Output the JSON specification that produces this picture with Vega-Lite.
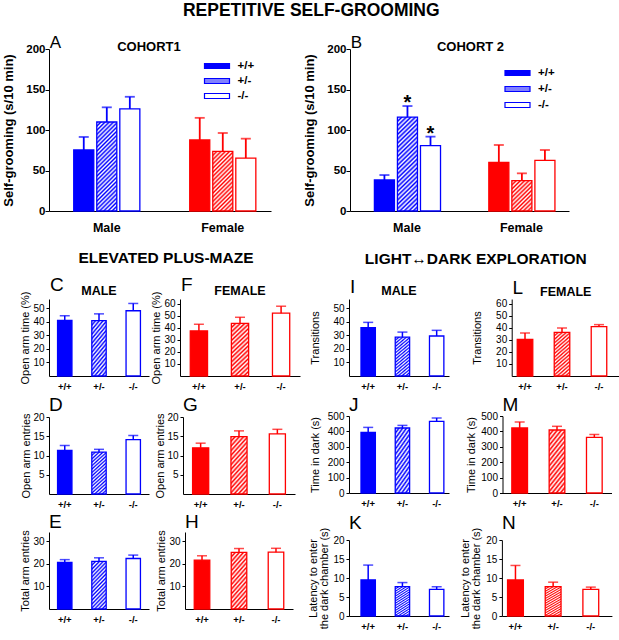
{
"padding": {"left": 2, "top": 1, "right": 2, "bottom": 2},
"title": {"text": "REPETITIVE SELF-GROOMING", "fontSize": 17.5, "fontWeight": "bold", "anchor": "middle", "offset": 15},
"config": {
  "font": "Liberation Sans",
  "view": {"stroke": null},
  "axis": {"grid": false, "domainColor": "#000000", "tickColor": "#000000", "labelColor": "#000000", "titleColor": "#000000", "domainWidth": 1, "tickWidth": 1, "labelFont": "Liberation Sans", "titleFont": "Liberation Sans"},
  "axisX": {"ticks": false, "labelFontSize": 9.5, "labelFontWeight": "bold", "labelPadding": 5, "labelAngle": 0},
  "axisY": {"titleFontSize": 11, "titleFontWeight": "normal", "labelFontSize": 10, "labelPadding": 2, "tickSize": 3},
  "title": {"font": "Liberation Sans", "color": "#000000"},
  "legend": {"labelFont": "Liberation Sans", "labelColor": "#000000"},
  "range": {"category": ["#0000ff", "#8080ff", "#ffffff", "#ff0000", "#ff8080", "#ffffff"]}
},
"resolve": {"legend": {"fill": "independent"}},
"align": "none",
"spacing": 16,
"vconcat": [
{
  "spacing": 32,
  "resolve": {"legend": {"fill": "independent"}},
  "hconcat": [
  {
   "resolve": {"legend": {"fill": "independent"}},
   "title": {"text": "A", "anchor": "start", "frame": "bounds", "fontSize": 17, "fontWeight": "normal", "offset": -24, "dx": 47, "baseline": "alphabetic"},
   "vconcat": [
  {
    "width": 222, "height": 162,
    "title": {"text": "COHORT1", "anchor": "middle", "frame": "group", "fontSize": 13, "fontWeight": "bold", "offset": -21, "dx": -11, "baseline": "alphabetic"},
    "data": {"values": [
      {"sex": "Male", "g": "+/+", "grp": "Male +/+", "mean": 75.3, "up": 91.4},
      {"sex": "Male", "g": "+/-", "grp": "Male +/-", "mean": 109.9, "up": 128},
      {"sex": "Male", "g": "-/-", "grp": "Male -/-", "mean": 126, "up": 141},
      {"sex": "Female", "g": "+/+", "grp": "Female +/+", "mean": 87.7, "up": 115},
      {"sex": "Female", "g": "+/-", "grp": "Female +/-", "mean": 73.7, "up": 96.3},
      {"sex": "Female", "g": "-/-", "grp": "Female -/-", "mean": 65.4, "up": 89.3}
    ]},
    "encoding": {"y": {"field": "mean", "type": "quantitative", "scale": {"domain": [0, 200], "nice": false}, "axis": {"title": "Self-grooming (s/10 min)", "titleFontSize": 13, "titleFontWeight": "bold", "titlePadding": 10, "labelFontSize": 11.5, "labelFontWeight": "bold", "labelPadding": 0, "tickSize": 4, "values": [0, 50, 100, 150, 200]}}},
    "layer": [
      {"mark": {"type": "bar", "strokeWidth": 1.3},
       "encoding": {
         "x": {"field": "sex", "type": "nominal", "scale": {"domain": ["Male", "Female"], "paddingInner": 0.43, "paddingOuter": 0.172, "align": 0.62}, "axis": {"title": null, "labelFontSize": 12.5, "labelPadding": 10}},
         "xOffset": {"field": "g", "type": "nominal", "scale": {"domain": ["+/+", "+/-", "-/-"], "paddingInner": 0.13, "paddingOuter": 0}},
         "fill": {"field": "grp", "type": "nominal", "scale": {"domain": ["Male +/+", "Male +/-", "Male -/-", "Female +/+", "Female +/-", "Female -/-"]},
           "condition": [
             {"test": "datum.grp === 'Male +/-'", "value": {"gradient": "linear", "x1": 0, "y1": 0, "x2": 0.26, "y2": 1.16, "stops": [{"offset":0,"color":"#00f"},{"offset":0.0192,"color":"#fff"},{"offset":0.0385,"color":"#00f"},{"offset":0.0577,"color":"#fff"},{"offset":0.0769,"color":"#00f"},{"offset":0.0962,"color":"#fff"},{"offset":0.1154,"color":"#00f"},{"offset":0.1346,"color":"#fff"},{"offset":0.1538,"color":"#00f"},{"offset":0.1731,"color":"#fff"},{"offset":0.1923,"color":"#00f"},{"offset":0.2115,"color":"#fff"},{"offset":0.2308,"color":"#00f"},{"offset":0.25,"color":"#fff"},{"offset":0.2692,"color":"#00f"},{"offset":0.2885,"color":"#fff"},{"offset":0.3077,"color":"#00f"},{"offset":0.3269,"color":"#fff"},{"offset":0.3462,"color":"#00f"},{"offset":0.3654,"color":"#fff"},{"offset":0.3846,"color":"#00f"},{"offset":0.4038,"color":"#fff"},{"offset":0.4231,"color":"#00f"},{"offset":0.4423,"color":"#fff"},{"offset":0.4615,"color":"#00f"},{"offset":0.4808,"color":"#fff"},{"offset":0.5,"color":"#00f"},{"offset":0.5192,"color":"#fff"},{"offset":0.5385,"color":"#00f"},{"offset":0.5577,"color":"#fff"},{"offset":0.5769,"color":"#00f"},{"offset":0.5962,"color":"#fff"},{"offset":0.6154,"color":"#00f"},{"offset":0.6346,"color":"#fff"},{"offset":0.6538,"color":"#00f"},{"offset":0.6731,"color":"#fff"},{"offset":0.6923,"color":"#00f"},{"offset":0.7115,"color":"#fff"},{"offset":0.7308,"color":"#00f"},{"offset":0.75,"color":"#fff"},{"offset":0.7692,"color":"#00f"},{"offset":0.7885,"color":"#fff"},{"offset":0.8077,"color":"#00f"},{"offset":0.8269,"color":"#fff"},{"offset":0.8462,"color":"#00f"},{"offset":0.8654,"color":"#fff"},{"offset":0.8846,"color":"#00f"},{"offset":0.9038,"color":"#fff"},{"offset":0.9231,"color":"#00f"},{"offset":0.9423,"color":"#fff"},{"offset":0.9615,"color":"#00f"},{"offset":0.9808,"color":"#fff"},{"offset":1,"color":"#00f"}]}},
             {"test": "datum.grp === 'Female +/-'", "value": {"gradient": "linear", "x1": 0, "y1": 0, "x2": 0.4, "y2": 1.2, "stops": [{"offset":0,"color":"#f00"},{"offset":0.0263,"color":"#fff"},{"offset":0.0526,"color":"#f00"},{"offset":0.0789,"color":"#fff"},{"offset":0.1053,"color":"#f00"},{"offset":0.1316,"color":"#fff"},{"offset":0.1579,"color":"#f00"},{"offset":0.1842,"color":"#fff"},{"offset":0.2105,"color":"#f00"},{"offset":0.2368,"color":"#fff"},{"offset":0.2632,"color":"#f00"},{"offset":0.2895,"color":"#fff"},{"offset":0.3158,"color":"#f00"},{"offset":0.3421,"color":"#fff"},{"offset":0.3684,"color":"#f00"},{"offset":0.3947,"color":"#fff"},{"offset":0.4211,"color":"#f00"},{"offset":0.4474,"color":"#fff"},{"offset":0.4737,"color":"#f00"},{"offset":0.5,"color":"#fff"},{"offset":0.5263,"color":"#f00"},{"offset":0.5526,"color":"#fff"},{"offset":0.5789,"color":"#f00"},{"offset":0.6053,"color":"#fff"},{"offset":0.6316,"color":"#f00"},{"offset":0.6579,"color":"#fff"},{"offset":0.6842,"color":"#f00"},{"offset":0.7105,"color":"#fff"},{"offset":0.7368,"color":"#f00"},{"offset":0.7632,"color":"#fff"},{"offset":0.7895,"color":"#f00"},{"offset":0.8158,"color":"#fff"},{"offset":0.8421,"color":"#f00"},{"offset":0.8684,"color":"#fff"},{"offset":0.8947,"color":"#f00"},{"offset":0.9211,"color":"#fff"},{"offset":0.9474,"color":"#f00"},{"offset":0.9737,"color":"#fff"},{"offset":1,"color":"#f00"}]}}
           ],
           "legend": {"orient": "none", "legendX": 162, "legendY": 11, "title": null, "padding": 0, "values": ["Male +/+", "Male +/-", "Male -/-"], "labelExpr": "split(datum.label, ' ')[1]", "symbolType": "M-2.5,-0.5H2.5V0.5H-2.5Z", "symbolSize": 100, "symbolStrokeColor": "#0000ff", "symbolStrokeWidth": 1.2, "labelFontSize": 11.5, "labelFontWeight": "bold", "labelOffset": 14.5, "rowPadding": 3}},
         "stroke": {"field": "sex", "type": "nominal", "scale": {"domain": ["Male", "Female"], "range": ["#0000ff", "#ff0000"]}, "legend": null}}},
      {"mark": {"type": "rule", "strokeWidth": 1.8},
       "encoding": {
         "x": {"field": "sex", "type": "nominal", "axis": {"title": null, "labelFontSize": 12.5, "labelPadding": 10}},
         "xOffset": {"field": "g", "type": "nominal"},
         "y2": {"field": "up"},
         "color": {"field": "sex", "type": "nominal", "scale": {"domain": ["Male", "Female"], "range": ["#0000ff", "#ff0000"]}, "legend": null}}},
      {"mark": {"type": "tick", "thickness": 1.8, "size": 10},
       "encoding": {
         "x": {"field": "sex", "type": "nominal", "axis": {"title": null, "labelFontSize": 12.5, "labelPadding": 10}},
         "xOffset": {"field": "g", "type": "nominal"},
         "y": {"field": "up", "type": "quantitative", "title": "Self-grooming (s/10 min)"},
         "color": {"field": "sex", "type": "nominal", "scale": {"domain": ["Male", "Female"], "range": ["#0000ff", "#ff0000"]}, "legend": null}}}
    ]
  }
   ]
  },
  {
   "resolve": {"legend": {"fill": "independent"}},
   "title": {"text": "B", "anchor": "start", "frame": "bounds", "fontSize": 17, "fontWeight": "normal", "offset": -24, "dx": 47, "baseline": "alphabetic"},
   "vconcat": [
  {
    "width": 219, "height": 162,
    "title": {"text": "COHORT 2", "anchor": "middle", "frame": "group", "fontSize": 13, "fontWeight": "bold", "offset": -21, "dx": 11, "baseline": "alphabetic"},
    "data": {"values": [
      {"sex": "Male", "g": "+/+", "grp": "Male +/+", "mean": 38.3, "up": 44.4},
      {"sex": "Male", "g": "+/-", "grp": "Male +/-", "mean": 116, "up": 129.6},
      {"sex": "Male", "g": "-/-", "grp": "Male -/-", "mean": 80.7, "up": 91.8},
      {"sex": "Female", "g": "+/+", "grp": "Female +/+", "mean": 60.1, "up": 81.5},
      {"sex": "Female", "g": "+/-", "grp": "Female +/-", "mean": 37.4, "up": 46.5},
      {"sex": "Female", "g": "-/-", "grp": "Female -/-", "mean": 62.5, "up": 75.3}
    ]},
    "encoding": {"y": {"field": "mean", "type": "quantitative", "scale": {"domain": [0, 200], "nice": false}, "axis": {"title": "Self-grooming (s/10 min)", "titleFontSize": 13, "titleFontWeight": "bold", "titlePadding": 10, "labelFontSize": 11.5, "labelFontWeight": "bold", "labelPadding": 0, "tickSize": 4, "values": [0, 50, 100, 150, 200]}}},
    "layer": [
      {"mark": {"type": "bar", "strokeWidth": 1.3},
       "encoding": {
         "x": {"field": "sex", "type": "nominal", "scale": {"domain": ["Male", "Female"], "paddingInner": 0.43, "paddingOuter": 0.172, "align": 0.62}, "axis": {"title": null, "labelFontSize": 12.5, "labelPadding": 10}},
         "xOffset": {"field": "g", "type": "nominal", "scale": {"domain": ["+/+", "+/-", "-/-"], "paddingInner": 0.13, "paddingOuter": 0}},
         "fill": {"field": "grp", "type": "nominal", "scale": {"domain": ["Male +/+", "Male +/-", "Male -/-", "Female +/+", "Female +/-", "Female -/-"]},
           "condition": [
             {"test": "datum.grp === 'Male +/-'", "value": {"gradient": "linear", "x1": 0, "y1": 0, "x2": 0.24, "y2": 1.16, "stops": [{"offset":0,"color":"#00f"},{"offset":0.0192,"color":"#fff"},{"offset":0.0385,"color":"#00f"},{"offset":0.0577,"color":"#fff"},{"offset":0.0769,"color":"#00f"},{"offset":0.0962,"color":"#fff"},{"offset":0.1154,"color":"#00f"},{"offset":0.1346,"color":"#fff"},{"offset":0.1538,"color":"#00f"},{"offset":0.1731,"color":"#fff"},{"offset":0.1923,"color":"#00f"},{"offset":0.2115,"color":"#fff"},{"offset":0.2308,"color":"#00f"},{"offset":0.25,"color":"#fff"},{"offset":0.2692,"color":"#00f"},{"offset":0.2885,"color":"#fff"},{"offset":0.3077,"color":"#00f"},{"offset":0.3269,"color":"#fff"},{"offset":0.3462,"color":"#00f"},{"offset":0.3654,"color":"#fff"},{"offset":0.3846,"color":"#00f"},{"offset":0.4038,"color":"#fff"},{"offset":0.4231,"color":"#00f"},{"offset":0.4423,"color":"#fff"},{"offset":0.4615,"color":"#00f"},{"offset":0.4808,"color":"#fff"},{"offset":0.5,"color":"#00f"},{"offset":0.5192,"color":"#fff"},{"offset":0.5385,"color":"#00f"},{"offset":0.5577,"color":"#fff"},{"offset":0.5769,"color":"#00f"},{"offset":0.5962,"color":"#fff"},{"offset":0.6154,"color":"#00f"},{"offset":0.6346,"color":"#fff"},{"offset":0.6538,"color":"#00f"},{"offset":0.6731,"color":"#fff"},{"offset":0.6923,"color":"#00f"},{"offset":0.7115,"color":"#fff"},{"offset":0.7308,"color":"#00f"},{"offset":0.75,"color":"#fff"},{"offset":0.7692,"color":"#00f"},{"offset":0.7885,"color":"#fff"},{"offset":0.8077,"color":"#00f"},{"offset":0.8269,"color":"#fff"},{"offset":0.8462,"color":"#00f"},{"offset":0.8654,"color":"#fff"},{"offset":0.8846,"color":"#00f"},{"offset":0.9038,"color":"#fff"},{"offset":0.9231,"color":"#00f"},{"offset":0.9423,"color":"#fff"},{"offset":0.9615,"color":"#00f"},{"offset":0.9808,"color":"#fff"},{"offset":1,"color":"#00f"}]}},
             {"test": "datum.grp === 'Female +/-'", "value": {"gradient": "linear", "x1": 0, "y1": 0, "x2": 0.75, "y2": 1.16, "stops": [{"offset":0,"color":"#f00"},{"offset":0.0417,"color":"#fff"},{"offset":0.0833,"color":"#f00"},{"offset":0.125,"color":"#fff"},{"offset":0.1667,"color":"#f00"},{"offset":0.2083,"color":"#fff"},{"offset":0.25,"color":"#f00"},{"offset":0.2917,"color":"#fff"},{"offset":0.3333,"color":"#f00"},{"offset":0.375,"color":"#fff"},{"offset":0.4167,"color":"#f00"},{"offset":0.4583,"color":"#fff"},{"offset":0.5,"color":"#f00"},{"offset":0.5417,"color":"#fff"},{"offset":0.5833,"color":"#f00"},{"offset":0.625,"color":"#fff"},{"offset":0.6667,"color":"#f00"},{"offset":0.7083,"color":"#fff"},{"offset":0.75,"color":"#f00"},{"offset":0.7917,"color":"#fff"},{"offset":0.8333,"color":"#f00"},{"offset":0.875,"color":"#fff"},{"offset":0.9167,"color":"#f00"},{"offset":0.9583,"color":"#fff"},{"offset":1,"color":"#f00"}]}}
           ],
           "legend": {"orient": "none", "legendX": 161.5, "legendY": 18, "title": null, "padding": 0, "values": ["Male +/+", "Male +/-", "Male -/-"], "labelExpr": "split(datum.label, ' ')[1]", "symbolType": "M-2.5,-0.5H2.5V0.5H-2.5Z", "symbolSize": 100, "symbolStrokeColor": "#0000ff", "symbolStrokeWidth": 1.2, "labelFontSize": 11.5, "labelFontWeight": "bold", "labelOffset": 14.5, "rowPadding": 4}},
         "stroke": {"field": "sex", "type": "nominal", "scale": {"domain": ["Male", "Female"], "range": ["#0000ff", "#ff0000"]}, "legend": null}}},
      {"mark": {"type": "rule", "strokeWidth": 1.8},
       "encoding": {
         "x": {"field": "sex", "type": "nominal", "axis": {"title": null, "labelFontSize": 12.5, "labelPadding": 10}},
         "xOffset": {"field": "g", "type": "nominal"},
         "y2": {"field": "up"},
         "color": {"field": "sex", "type": "nominal", "scale": {"domain": ["Male", "Female"], "range": ["#0000ff", "#ff0000"]}, "legend": null}}},
      {"mark": {"type": "tick", "thickness": 1.8, "size": 10},
       "encoding": {
         "x": {"field": "sex", "type": "nominal", "axis": {"title": null, "labelFontSize": 12.5, "labelPadding": 10}},
         "xOffset": {"field": "g", "type": "nominal"},
         "y": {"field": "up", "type": "quantitative", "title": "Self-grooming (s/10 min)"},
         "color": {"field": "sex", "type": "nominal", "scale": {"domain": ["Male", "Female"], "range": ["#0000ff", "#ff0000"]}, "legend": null}}},
      {"data": {"values": [{"sex": "Male", "g": "+/-", "up": 129.6, "t": "*"}, {"sex": "Male", "g": "-/-", "up": 91.8, "t": "*"}]},
       "mark": {"type": "text", "fontSize": 20, "fontWeight": "bold", "baseline": "alphabetic", "dy": 3, "font": "Liberation Sans", "color": "#000000"},
       "encoding": {
         "x": {"field": "sex", "type": "nominal", "axis": {"title": null, "labelFontSize": 12.5, "labelPadding": 10}},
         "xOffset": {"field": "g", "type": "nominal"},
         "y": {"field": "up", "type": "quantitative", "title": "Self-grooming (s/10 min)"},
         "text": {"field": "t", "type": "nominal"}}}
    ]
  }
   ]
  }
  ]
},
{
  "spacing": 7,
  "align": "none",
  "hconcat": [
  {
    "title": {"text": "ELEVATED PLUS-MAZE", "fontSize": 15.5, "fontWeight": "bold", "anchor": "middle", "offset": 10, "dx": 6},
    "spacing": 4,
    "align": "none",
    "vconcat": [
      {"spacing": 1, "hconcat": [
        {"title": {"text": "C", "anchor": "start", "frame": "bounds", "fontSize": 19, "fontWeight": "normal", "offset": -25, "dx": 30, "baseline": "alphabetic"},
         "vconcat": [
        {"width": 100, "height": 77,
         "title": {"text": "MALE", "anchor": "middle", "frame": "group", "fontSize": 12.5, "fontWeight": "bold", "offset": -16.5, "baseline": "alphabetic"},
         "data": {"values": [{"g": "+/+", "grp": "Male +/+", "mean": 41.1, "up": 44.6}, {"g": "+/-", "grp": "Male +/-", "mean": 41.0, "up": 46.0}, {"g": "-/-", "grp": "Male -/-", "mean": 48.3, "up": 53.7}]},
         "encoding": {"x": {"field": "g", "type": "nominal", "scale": {"domain": ["+/+", "+/-", "-/-"], "paddingInner": 0.58, "paddingOuter": 0.25, "align": 0.5}, "axis": {"title": null}},
                      "y": {"field": "mean", "type": "quantitative", "scale": {"domain": [0, 57], "nice": false}, "axis": {"title": "Open arm time (%)", "titlePadding": 2, "values": [10, 20, 30, 40, 50]}}},
         "layer": [
           {"mark": {"type": "bar", "stroke": "#0000ff", "strokeWidth": 1.3}, "encoding": {"fill": {"field": "grp", "type": "nominal", "scale": {"domain": ["Male +/+", "Male +/-", "Male -/-", "Female +/+", "Female +/-", "Female -/-"]}, "legend": null, "condition": {"test": "datum.g === '+/-'", "value": {"gradient": "linear", "x1": 0, "y1": 0, "x2": 0.37, "y2": 1.19, "stops": [{"offset":0,"color":"#00f"},{"offset":0.03125,"color":"#fff"},{"offset":0.0625,"color":"#00f"},{"offset":0.09375,"color":"#fff"},{"offset":0.125,"color":"#00f"},{"offset":0.15625,"color":"#fff"},{"offset":0.1875,"color":"#00f"},{"offset":0.21875,"color":"#fff"},{"offset":0.25,"color":"#00f"},{"offset":0.28125,"color":"#fff"},{"offset":0.3125,"color":"#00f"},{"offset":0.34375,"color":"#fff"},{"offset":0.375,"color":"#00f"},{"offset":0.40625,"color":"#fff"},{"offset":0.4375,"color":"#00f"},{"offset":0.46875,"color":"#fff"},{"offset":0.5,"color":"#00f"},{"offset":0.53125,"color":"#fff"},{"offset":0.5625,"color":"#00f"},{"offset":0.59375,"color":"#fff"},{"offset":0.625,"color":"#00f"},{"offset":0.65625,"color":"#fff"},{"offset":0.6875,"color":"#00f"},{"offset":0.71875,"color":"#fff"},{"offset":0.75,"color":"#00f"},{"offset":0.78125,"color":"#fff"},{"offset":0.8125,"color":"#00f"},{"offset":0.84375,"color":"#fff"},{"offset":0.875,"color":"#00f"},{"offset":0.90625,"color":"#fff"},{"offset":0.9375,"color":"#00f"},{"offset":0.96875,"color":"#fff"},{"offset":1,"color":"#00f"}]}}}}},
           {"mark": {"type": "rule", "color": "#0000ff", "strokeWidth": 1.5}, "encoding": {"y2": {"field": "up"}}},
           {"mark": {"type": "tick", "color": "#0000ff", "thickness": 1.5, "size": 10}, "encoding": {"y": {"field": "up", "type": "quantitative", "title": "Open arm time (%)"}}}
         ]}]},
        {"title": {"text": "F", "anchor": "start", "frame": "bounds", "fontSize": 19, "fontWeight": "normal", "offset": -25, "dx": 30, "baseline": "alphabetic"},
         "vconcat": [
        {"width": 120, "height": 77,
         "title": {"text": "FEMALE", "anchor": "middle", "frame": "group", "fontSize": 12.5, "fontWeight": "bold", "offset": -16.5, "baseline": "alphabetic"},
         "data": {"values": [{"g": "+/+", "grp": "Female +/+", "mean": 37.5, "up": 43}, {"g": "+/-", "grp": "Female +/-", "mean": 43.8, "up": 48.8}, {"g": "-/-", "grp": "Female -/-", "mean": 52.2, "up": 58}]},
         "encoding": {"x": {"field": "g", "type": "nominal", "scale": {"domain": ["+/+", "+/-", "-/-"], "paddingInner": 0.58, "paddingOuter": 0.25, "align": 0.5}, "axis": {"title": null}},
                      "y": {"field": "mean", "type": "quantitative", "scale": {"domain": [0, 64], "nice": false}, "axis": {"title": "Open arm time (%)", "titlePadding": 2, "values": [10, 20, 30, 40, 50, 60]}}},
         "layer": [
           {"mark": {"type": "bar", "stroke": "#ff0000", "strokeWidth": 1.3}, "encoding": {"fill": {"field": "grp", "type": "nominal", "scale": {"domain": ["Male +/+", "Male +/-", "Male -/-", "Female +/+", "Female +/-", "Female -/-"]}, "legend": null, "condition": {"test": "datum.g === '+/-'", "value": {"gradient": "linear", "x1": 0, "y1": 0, "x2": 0.37, "y2": 1.19, "stops": [{"offset":0,"color":"#f00"},{"offset":0.03125,"color":"#fff"},{"offset":0.0625,"color":"#f00"},{"offset":0.09375,"color":"#fff"},{"offset":0.125,"color":"#f00"},{"offset":0.15625,"color":"#fff"},{"offset":0.1875,"color":"#f00"},{"offset":0.21875,"color":"#fff"},{"offset":0.25,"color":"#f00"},{"offset":0.28125,"color":"#fff"},{"offset":0.3125,"color":"#f00"},{"offset":0.34375,"color":"#fff"},{"offset":0.375,"color":"#f00"},{"offset":0.40625,"color":"#fff"},{"offset":0.4375,"color":"#f00"},{"offset":0.46875,"color":"#fff"},{"offset":0.5,"color":"#f00"},{"offset":0.53125,"color":"#fff"},{"offset":0.5625,"color":"#f00"},{"offset":0.59375,"color":"#fff"},{"offset":0.625,"color":"#f00"},{"offset":0.65625,"color":"#fff"},{"offset":0.6875,"color":"#f00"},{"offset":0.71875,"color":"#fff"},{"offset":0.75,"color":"#f00"},{"offset":0.78125,"color":"#fff"},{"offset":0.8125,"color":"#f00"},{"offset":0.84375,"color":"#fff"},{"offset":0.875,"color":"#f00"},{"offset":0.90625,"color":"#fff"},{"offset":0.9375,"color":"#f00"},{"offset":0.96875,"color":"#fff"},{"offset":1,"color":"#f00"}]}}}}},
           {"mark": {"type": "rule", "color": "#ff0000", "strokeWidth": 1.5}, "encoding": {"y2": {"field": "up"}}},
           {"mark": {"type": "tick", "color": "#ff0000", "thickness": 1.5, "size": 10}, "encoding": {"y": {"field": "up", "type": "quantitative", "title": "Open arm time (%)"}}}
         ]}]}
      ]},
      {"spacing": 5, "hconcat": [
        {"width": 100, "height": 77,
         "title": {"text": "D", "anchor": "start", "frame": "group", "fontSize": 19, "fontWeight": "normal", "offset": -17.5, "baseline": "alphabetic"},
         "data": {"values": [{"g": "+/+", "grp": "Male +/+", "mean": 11.3, "up": 12.6}, {"g": "+/-", "grp": "Male +/-", "mean": 10.9, "up": 11.6}, {"g": "-/-", "grp": "Male -/-", "mean": 14.1, "up": 15.2}]},
         "encoding": {"x": {"field": "g", "type": "nominal", "scale": {"domain": ["+/+", "+/-", "-/-"], "paddingInner": 0.58, "paddingOuter": 0.25, "align": 0.5}, "axis": {"title": null}},
                      "y": {"field": "mean", "type": "quantitative", "scale": {"domain": [0, 20], "nice": false}, "axis": {"title": "Open arm entries", "titlePadding": 1, "values": [5, 10, 15, 20]}}},
         "layer": [
           {"mark": {"type": "bar", "stroke": "#0000ff", "strokeWidth": 1.3}, "encoding": {"fill": {"field": "grp", "type": "nominal", "scale": {"domain": ["Male +/+", "Male +/-", "Male -/-", "Female +/+", "Female +/-", "Female -/-"]}, "legend": null, "condition": {"test": "datum.g === '+/-'", "value": {"gradient": "linear", "x1": 0, "y1": 0, "x2": 0.37, "y2": 1.19, "stops": [{"offset":0,"color":"#00f"},{"offset":0.03125,"color":"#fff"},{"offset":0.0625,"color":"#00f"},{"offset":0.09375,"color":"#fff"},{"offset":0.125,"color":"#00f"},{"offset":0.15625,"color":"#fff"},{"offset":0.1875,"color":"#00f"},{"offset":0.21875,"color":"#fff"},{"offset":0.25,"color":"#00f"},{"offset":0.28125,"color":"#fff"},{"offset":0.3125,"color":"#00f"},{"offset":0.34375,"color":"#fff"},{"offset":0.375,"color":"#00f"},{"offset":0.40625,"color":"#fff"},{"offset":0.4375,"color":"#00f"},{"offset":0.46875,"color":"#fff"},{"offset":0.5,"color":"#00f"},{"offset":0.53125,"color":"#fff"},{"offset":0.5625,"color":"#00f"},{"offset":0.59375,"color":"#fff"},{"offset":0.625,"color":"#00f"},{"offset":0.65625,"color":"#fff"},{"offset":0.6875,"color":"#00f"},{"offset":0.71875,"color":"#fff"},{"offset":0.75,"color":"#00f"},{"offset":0.78125,"color":"#fff"},{"offset":0.8125,"color":"#00f"},{"offset":0.84375,"color":"#fff"},{"offset":0.875,"color":"#00f"},{"offset":0.90625,"color":"#fff"},{"offset":0.9375,"color":"#00f"},{"offset":0.96875,"color":"#fff"},{"offset":1,"color":"#00f"}]}}}}},
           {"mark": {"type": "rule", "color": "#0000ff", "strokeWidth": 1.5}, "encoding": {"y2": {"field": "up"}}},
           {"mark": {"type": "tick", "color": "#0000ff", "thickness": 1.5, "size": 10}, "encoding": {"y": {"field": "up", "type": "quantitative", "title": "Open arm entries"}}}
         ]},
        {"width": 112, "height": 77,
         "title": {"text": "G", "anchor": "start", "frame": "group", "fontSize": 19, "fontWeight": "normal", "offset": -17.5, "baseline": "alphabetic"},
         "data": {"values": [{"g": "+/+", "grp": "Female +/+", "mean": 12.0, "up": 13.2}, {"g": "+/-", "grp": "Female +/-", "mean": 14.9, "up": 16.4}, {"g": "-/-", "grp": "Female -/-", "mean": 15.6, "up": 16.8}]},
         "encoding": {"x": {"field": "g", "type": "nominal", "scale": {"domain": ["+/+", "+/-", "-/-"], "paddingInner": 0.58, "paddingOuter": 0.25, "align": 0.5}, "axis": {"title": null}},
                      "y": {"field": "mean", "type": "quantitative", "scale": {"domain": [0, 20], "nice": false}, "axis": {"title": "Open arm entries", "titlePadding": 1, "values": [5, 10, 15, 20]}}},
         "layer": [
           {"mark": {"type": "bar", "stroke": "#ff0000", "strokeWidth": 1.3}, "encoding": {"fill": {"field": "grp", "type": "nominal", "scale": {"domain": ["Male +/+", "Male +/-", "Male -/-", "Female +/+", "Female +/-", "Female -/-"]}, "legend": null, "condition": {"test": "datum.g === '+/-'", "value": {"gradient": "linear", "x1": 0, "y1": 0, "x2": 0.37, "y2": 1.19, "stops": [{"offset":0,"color":"#f00"},{"offset":0.03125,"color":"#fff"},{"offset":0.0625,"color":"#f00"},{"offset":0.09375,"color":"#fff"},{"offset":0.125,"color":"#f00"},{"offset":0.15625,"color":"#fff"},{"offset":0.1875,"color":"#f00"},{"offset":0.21875,"color":"#fff"},{"offset":0.25,"color":"#f00"},{"offset":0.28125,"color":"#fff"},{"offset":0.3125,"color":"#f00"},{"offset":0.34375,"color":"#fff"},{"offset":0.375,"color":"#f00"},{"offset":0.40625,"color":"#fff"},{"offset":0.4375,"color":"#f00"},{"offset":0.46875,"color":"#fff"},{"offset":0.5,"color":"#f00"},{"offset":0.53125,"color":"#fff"},{"offset":0.5625,"color":"#f00"},{"offset":0.59375,"color":"#fff"},{"offset":0.625,"color":"#f00"},{"offset":0.65625,"color":"#fff"},{"offset":0.6875,"color":"#f00"},{"offset":0.71875,"color":"#fff"},{"offset":0.75,"color":"#f00"},{"offset":0.78125,"color":"#fff"},{"offset":0.8125,"color":"#f00"},{"offset":0.84375,"color":"#fff"},{"offset":0.875,"color":"#f00"},{"offset":0.90625,"color":"#fff"},{"offset":0.9375,"color":"#f00"},{"offset":0.96875,"color":"#fff"},{"offset":1,"color":"#f00"}]}}}}},
           {"mark": {"type": "rule", "color": "#ff0000", "strokeWidth": 1.5}, "encoding": {"y2": {"field": "up"}}},
           {"mark": {"type": "tick", "color": "#ff0000", "thickness": 1.5, "size": 10}, "encoding": {"y": {"field": "up", "type": "quantitative", "title": "Open arm entries"}}}
         ]}
      ]},
      {"spacing": 6, "hconcat": [
        {"width": 100, "height": 77,
         "title": {"text": "E", "anchor": "start", "frame": "group", "fontSize": 19, "fontWeight": "normal", "offset": -17.5, "baseline": "alphabetic"},
         "data": {"values": [{"g": "+/+", "grp": "Male +/+", "mean": 20.6, "up": 21.8}, {"g": "+/-", "grp": "Male +/-", "mean": 21.0, "up": 22.6}, {"g": "-/-", "grp": "Male -/-", "mean": 22.3, "up": 23.8}]},
         "encoding": {"x": {"field": "g", "type": "nominal", "scale": {"domain": ["+/+", "+/-", "-/-"], "paddingInner": 0.58, "paddingOuter": 0.25, "align": 0.5}, "axis": {"title": null}},
                      "y": {"field": "mean", "type": "quantitative", "scale": {"domain": [0, 34], "nice": false}, "axis": {"title": "Total arm entries", "titlePadding": 2, "values": [10, 20, 30]}}},
         "layer": [
           {"mark": {"type": "bar", "stroke": "#0000ff", "strokeWidth": 1.3}, "encoding": {"fill": {"field": "grp", "type": "nominal", "scale": {"domain": ["Male +/+", "Male +/-", "Male -/-", "Female +/+", "Female +/-", "Female -/-"]}, "legend": null, "condition": {"test": "datum.g === '+/-'", "value": {"gradient": "linear", "x1": 0, "y1": 0, "x2": 0.37, "y2": 1.19, "stops": [{"offset":0,"color":"#00f"},{"offset":0.03125,"color":"#fff"},{"offset":0.0625,"color":"#00f"},{"offset":0.09375,"color":"#fff"},{"offset":0.125,"color":"#00f"},{"offset":0.15625,"color":"#fff"},{"offset":0.1875,"color":"#00f"},{"offset":0.21875,"color":"#fff"},{"offset":0.25,"color":"#00f"},{"offset":0.28125,"color":"#fff"},{"offset":0.3125,"color":"#00f"},{"offset":0.34375,"color":"#fff"},{"offset":0.375,"color":"#00f"},{"offset":0.40625,"color":"#fff"},{"offset":0.4375,"color":"#00f"},{"offset":0.46875,"color":"#fff"},{"offset":0.5,"color":"#00f"},{"offset":0.53125,"color":"#fff"},{"offset":0.5625,"color":"#00f"},{"offset":0.59375,"color":"#fff"},{"offset":0.625,"color":"#00f"},{"offset":0.65625,"color":"#fff"},{"offset":0.6875,"color":"#00f"},{"offset":0.71875,"color":"#fff"},{"offset":0.75,"color":"#00f"},{"offset":0.78125,"color":"#fff"},{"offset":0.8125,"color":"#00f"},{"offset":0.84375,"color":"#fff"},{"offset":0.875,"color":"#00f"},{"offset":0.90625,"color":"#fff"},{"offset":0.9375,"color":"#00f"},{"offset":0.96875,"color":"#fff"},{"offset":1,"color":"#00f"}]}}}}},
           {"mark": {"type": "rule", "color": "#0000ff", "strokeWidth": 1.5}, "encoding": {"y2": {"field": "up"}}},
           {"mark": {"type": "tick", "color": "#0000ff", "thickness": 1.5, "size": 10}, "encoding": {"y": {"field": "up", "type": "quantitative", "title": "Total arm entries"}}}
         ]},
        {"width": 108, "height": 77,
         "title": {"text": "H", "anchor": "start", "frame": "group", "fontSize": 19, "fontWeight": "normal", "offset": -17.5, "baseline": "alphabetic"},
         "data": {"values": [{"g": "+/+", "grp": "Female +/+", "mean": 21.6, "up": 23.5}, {"g": "+/-", "grp": "Female +/-", "mean": 25.0, "up": 26.7}, {"g": "-/-", "grp": "Female -/-", "mean": 25.1, "up": 26.8}]},
         "encoding": {"x": {"field": "g", "type": "nominal", "scale": {"domain": ["+/+", "+/-", "-/-"], "paddingInner": 0.58, "paddingOuter": 0.25, "align": 0.5}, "axis": {"title": null}},
                      "y": {"field": "mean", "type": "quantitative", "scale": {"domain": [0, 34], "nice": false}, "axis": {"title": "Total arm entries", "titlePadding": 2, "values": [10, 20, 30]}}},
         "layer": [
           {"mark": {"type": "bar", "stroke": "#ff0000", "strokeWidth": 1.3}, "encoding": {"fill": {"field": "grp", "type": "nominal", "scale": {"domain": ["Male +/+", "Male +/-", "Male -/-", "Female +/+", "Female +/-", "Female -/-"]}, "legend": null, "condition": {"test": "datum.g === '+/-'", "value": {"gradient": "linear", "x1": 0, "y1": 0, "x2": 0.37, "y2": 1.19, "stops": [{"offset":0,"color":"#f00"},{"offset":0.03125,"color":"#fff"},{"offset":0.0625,"color":"#f00"},{"offset":0.09375,"color":"#fff"},{"offset":0.125,"color":"#f00"},{"offset":0.15625,"color":"#fff"},{"offset":0.1875,"color":"#f00"},{"offset":0.21875,"color":"#fff"},{"offset":0.25,"color":"#f00"},{"offset":0.28125,"color":"#fff"},{"offset":0.3125,"color":"#f00"},{"offset":0.34375,"color":"#fff"},{"offset":0.375,"color":"#f00"},{"offset":0.40625,"color":"#fff"},{"offset":0.4375,"color":"#f00"},{"offset":0.46875,"color":"#fff"},{"offset":0.5,"color":"#f00"},{"offset":0.53125,"color":"#fff"},{"offset":0.5625,"color":"#f00"},{"offset":0.59375,"color":"#fff"},{"offset":0.625,"color":"#f00"},{"offset":0.65625,"color":"#fff"},{"offset":0.6875,"color":"#f00"},{"offset":0.71875,"color":"#fff"},{"offset":0.75,"color":"#f00"},{"offset":0.78125,"color":"#fff"},{"offset":0.8125,"color":"#f00"},{"offset":0.84375,"color":"#fff"},{"offset":0.875,"color":"#f00"},{"offset":0.90625,"color":"#fff"},{"offset":0.9375,"color":"#f00"},{"offset":0.96875,"color":"#fff"},{"offset":1,"color":"#f00"}]}}}}},
           {"mark": {"type": "rule", "color": "#ff0000", "strokeWidth": 1.5}, "encoding": {"y2": {"field": "up"}}},
           {"mark": {"type": "tick", "color": "#ff0000", "thickness": 1.5, "size": 10}, "encoding": {"y": {"field": "up", "type": "quantitative", "title": "Total arm entries"}}}
         ]}
      ]}
    ]
  },
  {
    "title": {"text": "LIGHT↔DARK EXPLORATION", "fontSize": 15.5, "fontWeight": "bold", "anchor": "middle", "offset": 10, "dx": 12},
    "spacing": 5,
    "align": "none",
    "vconcat": [
      {"spacing": 21.7, "hconcat": [
        {"title": {"text": "I", "anchor": "start", "frame": "bounds", "fontSize": 19, "fontWeight": "normal", "offset": -27, "dx": 40, "baseline": "alphabetic"},
         "vconcat": [
        {"width": 100, "height": 77,
         "title": {"text": "MALE", "anchor": "middle", "frame": "group", "fontSize": 12.5, "fontWeight": "bold", "offset": -8, "baseline": "alphabetic"},
         "data": {"values": [{"g": "+/+", "grp": "Male +/+", "mean": 35.8, "up": 39.7}, {"g": "+/-", "grp": "Male +/-", "mean": 28.8, "up": 32.5}, {"g": "-/-", "grp": "Male -/-", "mean": 29.6, "up": 33.8}]},
         "encoding": {"x": {"field": "g", "type": "nominal", "scale": {"domain": ["+/+", "+/-", "-/-"], "paddingInner": 0.58, "paddingOuter": 0.25, "align": 0.7}, "axis": {"title": null}},
                      "y": {"field": "mean", "type": "quantitative", "scale": {"domain": [0, 57], "nice": false}, "axis": {"title": "Transitions", "titlePadding": 12, "values": [10, 20, 30, 40, 50]}}},
         "layer": [
           {"mark": {"type": "bar", "stroke": "#0000ff", "strokeWidth": 1.3}, "encoding": {"fill": {"field": "grp", "type": "nominal", "scale": {"domain": ["Male +/+", "Male +/-", "Male -/-", "Female +/+", "Female +/-", "Female -/-"]}, "legend": null, "condition": {"test": "datum.g === '+/-'", "value": {"gradient": "linear", "x1": 0, "y1": 0, "x2": 0.37, "y2": 1.19, "stops": [{"offset":0,"color":"#00f"},{"offset":0.03125,"color":"#fff"},{"offset":0.0625,"color":"#00f"},{"offset":0.09375,"color":"#fff"},{"offset":0.125,"color":"#00f"},{"offset":0.15625,"color":"#fff"},{"offset":0.1875,"color":"#00f"},{"offset":0.21875,"color":"#fff"},{"offset":0.25,"color":"#00f"},{"offset":0.28125,"color":"#fff"},{"offset":0.3125,"color":"#00f"},{"offset":0.34375,"color":"#fff"},{"offset":0.375,"color":"#00f"},{"offset":0.40625,"color":"#fff"},{"offset":0.4375,"color":"#00f"},{"offset":0.46875,"color":"#fff"},{"offset":0.5,"color":"#00f"},{"offset":0.53125,"color":"#fff"},{"offset":0.5625,"color":"#00f"},{"offset":0.59375,"color":"#fff"},{"offset":0.625,"color":"#00f"},{"offset":0.65625,"color":"#fff"},{"offset":0.6875,"color":"#00f"},{"offset":0.71875,"color":"#fff"},{"offset":0.75,"color":"#00f"},{"offset":0.78125,"color":"#fff"},{"offset":0.8125,"color":"#00f"},{"offset":0.84375,"color":"#fff"},{"offset":0.875,"color":"#00f"},{"offset":0.90625,"color":"#fff"},{"offset":0.9375,"color":"#00f"},{"offset":0.96875,"color":"#fff"},{"offset":1,"color":"#00f"}]}}}}},
           {"mark": {"type": "rule", "color": "#0000ff", "strokeWidth": 1.5}, "encoding": {"y2": {"field": "up"}}},
           {"mark": {"type": "tick", "color": "#0000ff", "thickness": 1.5, "size": 10}, "encoding": {"y": {"field": "up", "type": "quantitative", "title": "Transitions"}}}
         ]}]},
        {"title": {"text": "L", "anchor": "start", "frame": "bounds", "fontSize": 19, "fontWeight": "normal", "offset": -27.5, "dx": 41, "baseline": "alphabetic"},
         "vconcat": [
        {"width": 108, "height": 77,
         "title": {"text": "FEMALE", "anchor": "middle", "frame": "group", "fontSize": 12.5, "fontWeight": "bold", "offset": -9.5, "baseline": "alphabetic"},
         "data": {"values": [{"g": "+/+", "grp": "Female +/+", "mean": 30.4, "up": 35.7}, {"g": "+/-", "grp": "Female +/-", "mean": 36.3, "up": 39.9}, {"g": "-/-", "grp": "Female -/-", "mean": 41.0, "up": 42.7}]},
         "encoding": {"x": {"field": "g", "type": "nominal", "scale": {"domain": ["+/+", "+/-", "-/-"], "paddingInner": 0.58, "paddingOuter": 0.25, "align": 0.3}, "axis": {"title": null}},
                      "y": {"field": "mean", "type": "quantitative", "scale": {"domain": [0, 64], "nice": false}, "axis": {"title": "Transitions", "titlePadding": 13, "values": [10, 20, 30, 40, 50, 60]}}},
         "layer": [
           {"mark": {"type": "bar", "stroke": "#ff0000", "strokeWidth": 1.3}, "encoding": {"fill": {"field": "grp", "type": "nominal", "scale": {"domain": ["Male +/+", "Male +/-", "Male -/-", "Female +/+", "Female +/-", "Female -/-"]}, "legend": null, "condition": {"test": "datum.g === '+/-'", "value": {"gradient": "linear", "x1": 0, "y1": 0, "x2": 0.37, "y2": 1.19, "stops": [{"offset":0,"color":"#f00"},{"offset":0.03125,"color":"#fff"},{"offset":0.0625,"color":"#f00"},{"offset":0.09375,"color":"#fff"},{"offset":0.125,"color":"#f00"},{"offset":0.15625,"color":"#fff"},{"offset":0.1875,"color":"#f00"},{"offset":0.21875,"color":"#fff"},{"offset":0.25,"color":"#f00"},{"offset":0.28125,"color":"#fff"},{"offset":0.3125,"color":"#f00"},{"offset":0.34375,"color":"#fff"},{"offset":0.375,"color":"#f00"},{"offset":0.40625,"color":"#fff"},{"offset":0.4375,"color":"#f00"},{"offset":0.46875,"color":"#fff"},{"offset":0.5,"color":"#f00"},{"offset":0.53125,"color":"#fff"},{"offset":0.5625,"color":"#f00"},{"offset":0.59375,"color":"#fff"},{"offset":0.625,"color":"#f00"},{"offset":0.65625,"color":"#fff"},{"offset":0.6875,"color":"#f00"},{"offset":0.71875,"color":"#fff"},{"offset":0.75,"color":"#f00"},{"offset":0.78125,"color":"#fff"},{"offset":0.8125,"color":"#f00"},{"offset":0.84375,"color":"#fff"},{"offset":0.875,"color":"#f00"},{"offset":0.90625,"color":"#fff"},{"offset":0.9375,"color":"#f00"},{"offset":0.96875,"color":"#fff"},{"offset":1,"color":"#f00"}]}}}}},
           {"mark": {"type": "rule", "color": "#ff0000", "strokeWidth": 1.5}, "encoding": {"y2": {"field": "up"}}},
           {"mark": {"type": "tick", "color": "#ff0000", "thickness": 1.5, "size": 10}, "encoding": {"y": {"field": "up", "type": "quantitative", "title": "Transitions"}}}
         ]}]}
      ]},
      {"spacing": 16.5, "hconcat": [
        {"width": 100, "height": 77,
         "title": {"text": "J", "anchor": "start", "frame": "group", "fontSize": 19, "fontWeight": "normal", "offset": -19, "baseline": "alphabetic"},
         "data": {"values": [{"g": "+/+", "grp": "Male +/+", "mean": 393, "up": 426}, {"g": "+/-", "grp": "Male +/-", "mean": 422, "up": 439}, {"g": "-/-", "grp": "Male -/-", "mean": 465, "up": 487}]},
         "encoding": {"x": {"field": "g", "type": "nominal", "scale": {"domain": ["+/+", "+/-", "-/-"], "paddingInner": 0.58, "paddingOuter": 0.25, "align": 0.7}, "axis": {"title": null}},
                      "y": {"field": "mean", "type": "quantitative", "scale": {"domain": [0, 500], "nice": false}, "axis": {"title": "Time in dark (s)", "titlePadding": 7, "values": [0, 100, 200, 300, 400, 500]}}},
         "layer": [
           {"mark": {"type": "bar", "stroke": "#0000ff", "strokeWidth": 1.3}, "encoding": {"fill": {"field": "grp", "type": "nominal", "scale": {"domain": ["Male +/+", "Male +/-", "Male -/-", "Female +/+", "Female +/-", "Female -/-"]}, "legend": null, "condition": {"test": "datum.g === '+/-'", "value": {"gradient": "linear", "x1": 0, "y1": 0, "x2": 0.37, "y2": 1.19, "stops": [{"offset":0,"color":"#00f"},{"offset":0.03125,"color":"#fff"},{"offset":0.0625,"color":"#00f"},{"offset":0.09375,"color":"#fff"},{"offset":0.125,"color":"#00f"},{"offset":0.15625,"color":"#fff"},{"offset":0.1875,"color":"#00f"},{"offset":0.21875,"color":"#fff"},{"offset":0.25,"color":"#00f"},{"offset":0.28125,"color":"#fff"},{"offset":0.3125,"color":"#00f"},{"offset":0.34375,"color":"#fff"},{"offset":0.375,"color":"#00f"},{"offset":0.40625,"color":"#fff"},{"offset":0.4375,"color":"#00f"},{"offset":0.46875,"color":"#fff"},{"offset":0.5,"color":"#00f"},{"offset":0.53125,"color":"#fff"},{"offset":0.5625,"color":"#00f"},{"offset":0.59375,"color":"#fff"},{"offset":0.625,"color":"#00f"},{"offset":0.65625,"color":"#fff"},{"offset":0.6875,"color":"#00f"},{"offset":0.71875,"color":"#fff"},{"offset":0.75,"color":"#00f"},{"offset":0.78125,"color":"#fff"},{"offset":0.8125,"color":"#00f"},{"offset":0.84375,"color":"#fff"},{"offset":0.875,"color":"#00f"},{"offset":0.90625,"color":"#fff"},{"offset":0.9375,"color":"#00f"},{"offset":0.96875,"color":"#fff"},{"offset":1,"color":"#00f"}]}}}}},
           {"mark": {"type": "rule", "color": "#0000ff", "strokeWidth": 1.5}, "encoding": {"y2": {"field": "up"}}},
           {"mark": {"type": "tick", "color": "#0000ff", "thickness": 1.5, "size": 10}, "encoding": {"y": {"field": "up", "type": "quantitative", "title": "Time in dark (s)"}}}
         ]},
        {"width": 109, "height": 77,
         "title": {"text": "M", "anchor": "start", "frame": "group", "fontSize": 19, "fontWeight": "normal", "offset": -19, "baseline": "alphabetic"},
         "data": {"values": [{"g": "+/+", "grp": "Female +/+", "mean": 422, "up": 461}, {"g": "+/-", "grp": "Female +/-", "mean": 409, "up": 433}, {"g": "-/-", "grp": "Female -/-", "mean": 361, "up": 380}]},
         "encoding": {"x": {"field": "g", "type": "nominal", "scale": {"domain": ["+/+", "+/-", "-/-"], "paddingInner": 0.58, "paddingOuter": 0.25, "align": 0.5}, "axis": {"title": null}},
                      "y": {"field": "mean", "type": "quantitative", "scale": {"domain": [0, 500], "nice": false}, "axis": {"title": "Time in dark (s)", "titlePadding": 4, "values": [0, 100, 200, 300, 400, 500]}}},
         "layer": [
           {"mark": {"type": "bar", "stroke": "#ff0000", "strokeWidth": 1.3}, "encoding": {"fill": {"field": "grp", "type": "nominal", "scale": {"domain": ["Male +/+", "Male +/-", "Male -/-", "Female +/+", "Female +/-", "Female -/-"]}, "legend": null, "condition": {"test": "datum.g === '+/-'", "value": {"gradient": "linear", "x1": 0, "y1": 0, "x2": 0.37, "y2": 1.19, "stops": [{"offset":0,"color":"#f00"},{"offset":0.03125,"color":"#fff"},{"offset":0.0625,"color":"#f00"},{"offset":0.09375,"color":"#fff"},{"offset":0.125,"color":"#f00"},{"offset":0.15625,"color":"#fff"},{"offset":0.1875,"color":"#f00"},{"offset":0.21875,"color":"#fff"},{"offset":0.25,"color":"#f00"},{"offset":0.28125,"color":"#fff"},{"offset":0.3125,"color":"#f00"},{"offset":0.34375,"color":"#fff"},{"offset":0.375,"color":"#f00"},{"offset":0.40625,"color":"#fff"},{"offset":0.4375,"color":"#f00"},{"offset":0.46875,"color":"#fff"},{"offset":0.5,"color":"#f00"},{"offset":0.53125,"color":"#fff"},{"offset":0.5625,"color":"#f00"},{"offset":0.59375,"color":"#fff"},{"offset":0.625,"color":"#f00"},{"offset":0.65625,"color":"#fff"},{"offset":0.6875,"color":"#f00"},{"offset":0.71875,"color":"#fff"},{"offset":0.75,"color":"#f00"},{"offset":0.78125,"color":"#fff"},{"offset":0.8125,"color":"#f00"},{"offset":0.84375,"color":"#fff"},{"offset":0.875,"color":"#f00"},{"offset":0.90625,"color":"#fff"},{"offset":0.9375,"color":"#f00"},{"offset":0.96875,"color":"#fff"},{"offset":1,"color":"#f00"}]}}}}},
           {"mark": {"type": "rule", "color": "#ff0000", "strokeWidth": 1.5}, "encoding": {"y2": {"field": "up"}}},
           {"mark": {"type": "tick", "color": "#ff0000", "thickness": 1.5, "size": 10}, "encoding": {"y": {"field": "up", "type": "quantitative", "title": "Time in dark (s)"}}}
         ]}
      ]},
      {"spacing": 9.9, "hconcat": [
        {"width": 100, "height": 76,
         "title": {"text": "K", "anchor": "start", "frame": "group", "fontSize": 19, "fontWeight": "normal", "offset": -20.5, "baseline": "alphabetic"},
         "data": {"values": [{"g": "+/+", "grp": "Male +/+", "mean": 9.5, "up": 13.4}, {"g": "+/-", "grp": "Male +/-", "mean": 7.75, "up": 8.8}, {"g": "-/-", "grp": "Male -/-", "mean": 7.0, "up": 7.7}]},
         "encoding": {"x": {"field": "g", "type": "nominal", "scale": {"domain": ["+/+", "+/-", "-/-"], "paddingInner": 0.58, "paddingOuter": 0.25, "align": 0.7}, "axis": {"title": null}},
                      "y": {"field": "mean", "type": "quantitative", "scale": {"domain": [0, 20], "nice": false}, "axis": {"title": ["Latency to enter", "the dark chamber (s)"], "titleLineHeight": 11, "titlePadding": 3, "values": [0, 5, 10, 15, 20]}}},
         "layer": [
           {"mark": {"type": "bar", "stroke": "#0000ff", "strokeWidth": 1.3}, "encoding": {"fill": {"field": "grp", "type": "nominal", "scale": {"domain": ["Male +/+", "Male +/-", "Male -/-", "Female +/+", "Female +/-", "Female -/-"]}, "legend": null, "condition": {"test": "datum.g === '+/-'", "value": {"gradient": "linear", "x1": 0, "y1": 0, "x2": 0.37, "y2": 1.19, "stops": [{"offset":0,"color":"#00f"},{"offset":0.03125,"color":"#fff"},{"offset":0.0625,"color":"#00f"},{"offset":0.09375,"color":"#fff"},{"offset":0.125,"color":"#00f"},{"offset":0.15625,"color":"#fff"},{"offset":0.1875,"color":"#00f"},{"offset":0.21875,"color":"#fff"},{"offset":0.25,"color":"#00f"},{"offset":0.28125,"color":"#fff"},{"offset":0.3125,"color":"#00f"},{"offset":0.34375,"color":"#fff"},{"offset":0.375,"color":"#00f"},{"offset":0.40625,"color":"#fff"},{"offset":0.4375,"color":"#00f"},{"offset":0.46875,"color":"#fff"},{"offset":0.5,"color":"#00f"},{"offset":0.53125,"color":"#fff"},{"offset":0.5625,"color":"#00f"},{"offset":0.59375,"color":"#fff"},{"offset":0.625,"color":"#00f"},{"offset":0.65625,"color":"#fff"},{"offset":0.6875,"color":"#00f"},{"offset":0.71875,"color":"#fff"},{"offset":0.75,"color":"#00f"},{"offset":0.78125,"color":"#fff"},{"offset":0.8125,"color":"#00f"},{"offset":0.84375,"color":"#fff"},{"offset":0.875,"color":"#00f"},{"offset":0.90625,"color":"#fff"},{"offset":0.9375,"color":"#00f"},{"offset":0.96875,"color":"#fff"},{"offset":1,"color":"#00f"}]}}}}},
           {"mark": {"type": "rule", "color": "#0000ff", "strokeWidth": 1.5}, "encoding": {"y2": {"field": "up"}}},
           {"mark": {"type": "tick", "color": "#0000ff", "thickness": 1.5, "size": 10}, "encoding": {"y": {"field": "up", "type": "quantitative", "title": ["Latency to enter", "the dark chamber (s)"]}}}
         ]},
        {"width": 110, "height": 76,
         "title": {"text": "N", "anchor": "start", "frame": "group", "fontSize": 19, "fontWeight": "normal", "offset": -20.5, "baseline": "alphabetic"},
         "data": {"values": [{"g": "+/+", "grp": "Female +/+", "mean": 9.5, "up": 13.3}, {"g": "+/-", "grp": "Female +/-", "mean": 7.75, "up": 8.9}, {"g": "-/-", "grp": "Female -/-", "mean": 7.0, "up": 7.6}]},
         "encoding": {"x": {"field": "g", "type": "nominal", "scale": {"domain": ["+/+", "+/-", "-/-"], "paddingInner": 0.58, "paddingOuter": 0.25, "align": 0.3}, "axis": {"title": null}},
                      "y": {"field": "mean", "type": "quantitative", "scale": {"domain": [0, 20], "nice": false}, "axis": {"title": ["Latency to enter", "the dark chamber (s)"], "titleLineHeight": 11, "titlePadding": 4, "values": [0, 5, 10, 15, 20]}}},
         "layer": [
           {"mark": {"type": "bar", "stroke": "#ff0000", "strokeWidth": 1.3}, "encoding": {"fill": {"field": "grp", "type": "nominal", "scale": {"domain": ["Male +/+", "Male +/-", "Male -/-", "Female +/+", "Female +/-", "Female -/-"]}, "legend": null, "condition": {"test": "datum.g === '+/-'", "value": {"gradient": "linear", "x1": 0, "y1": 0, "x2": 0.37, "y2": 1.19, "stops": [{"offset":0,"color":"#f00"},{"offset":0.03125,"color":"#fff"},{"offset":0.0625,"color":"#f00"},{"offset":0.09375,"color":"#fff"},{"offset":0.125,"color":"#f00"},{"offset":0.15625,"color":"#fff"},{"offset":0.1875,"color":"#f00"},{"offset":0.21875,"color":"#fff"},{"offset":0.25,"color":"#f00"},{"offset":0.28125,"color":"#fff"},{"offset":0.3125,"color":"#f00"},{"offset":0.34375,"color":"#fff"},{"offset":0.375,"color":"#f00"},{"offset":0.40625,"color":"#fff"},{"offset":0.4375,"color":"#f00"},{"offset":0.46875,"color":"#fff"},{"offset":0.5,"color":"#f00"},{"offset":0.53125,"color":"#fff"},{"offset":0.5625,"color":"#f00"},{"offset":0.59375,"color":"#fff"},{"offset":0.625,"color":"#f00"},{"offset":0.65625,"color":"#fff"},{"offset":0.6875,"color":"#f00"},{"offset":0.71875,"color":"#fff"},{"offset":0.75,"color":"#f00"},{"offset":0.78125,"color":"#fff"},{"offset":0.8125,"color":"#f00"},{"offset":0.84375,"color":"#fff"},{"offset":0.875,"color":"#f00"},{"offset":0.90625,"color":"#fff"},{"offset":0.9375,"color":"#f00"},{"offset":0.96875,"color":"#fff"},{"offset":1,"color":"#f00"}]}}}}},
           {"mark": {"type": "rule", "color": "#ff0000", "strokeWidth": 1.5}, "encoding": {"y2": {"field": "up"}}},
           {"mark": {"type": "tick", "color": "#ff0000", "thickness": 1.5, "size": 10}, "encoding": {"y": {"field": "up", "type": "quantitative", "title": ["Latency to enter", "the dark chamber (s)"]}}}
         ]}
      ]}
    ]
  }
  ]
}
]
}
